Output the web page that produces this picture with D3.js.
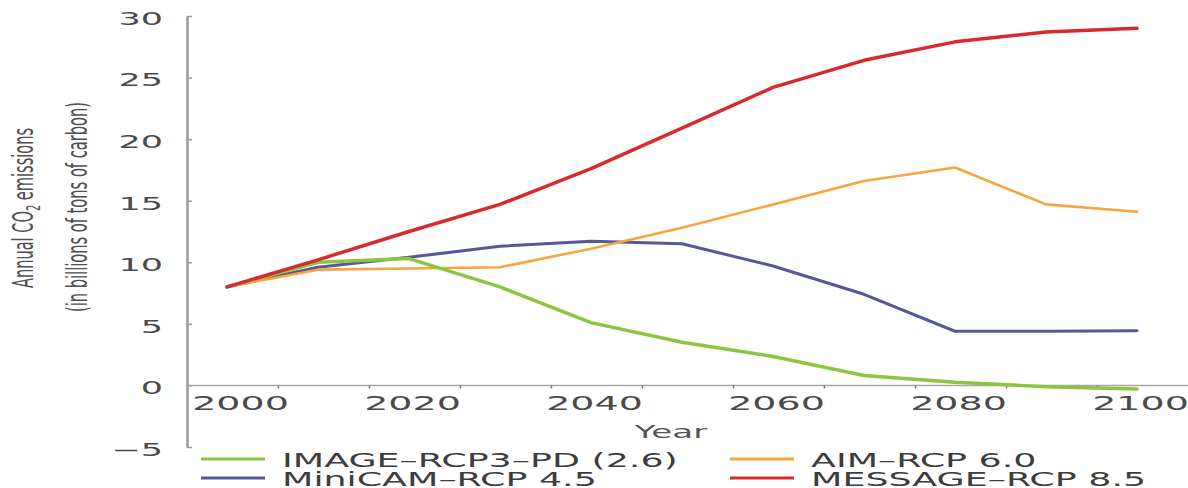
<!DOCTYPE html>
<html>
<head>
<meta charset="utf-8">
<script src="https://cdn.jsdelivr.net/npm/d3@7"></script>
<style>
  html, body { margin: 0; padding: 0; background: #fff; }
  svg { display: block; }
</style>
</head>
<body>
<svg id="chart"></svg>
<script>
// Annual CO2 emissions for the four RCP scenarios.
const years = [2000, 2010, 2020, 2030, 2040, 2050, 2060, 2070, 2080, 2090, 2100];
const image26 = [8.0, 10.0, 10.3, 8.0, 5.1, 3.5, 2.35, 0.8, 0.25, -0.1, -0.3];
const aim60 = [8.0, 9.4, 9.5, 9.6, 11.1, 12.8, 14.7, 16.6, 17.7, 14.7, 14.1];
const minicam45 = [8.0, 9.6, 10.4, 11.3, 11.7, 11.5, 9.7, 7.4, 4.4, 4.4, 4.45];
const message85 = [8.0, 10.2, 12.5, 14.7, 17.6, 20.9, 24.2, 26.4, 27.9, 28.7, 29.0];

const seriesNames = ["IMAGE–RCP3–PD (2.6)", "AIM–RCP 6.0", "MiniCAM–RCP 4.5", "MESSAGE–RCP 8.5"];
const yTicks = [-5, 0, 5, 10, 15, 20, 25, 30];
const xTickLabels = [2000, 2020, 2040, 2060, 2080, 2100];
// the small tick marks on the original sit between the labelled years
const xMinorTicks = [2005.6, 2015.6, 2025.6, 2035.6, 2045.6, 2055.6, 2065.6, 2075.6, 2085.6, 2095.6];

const W = 1188, H = 488;
const FONT = "'DejaVu Sans', 'Open Sans', sans-serif";
const STRETCH = 1.9; // the source image is stretched wide, so are its letters

const series = [
  { name: seriesNames[0], values: image26, color: "#8cc63f", width: 3.5 },
  { name: seriesNames[1], values: aim60, color: "#f6a53f", width: 2.6 },
  { name: seriesNames[2], values: minicam45, color: "#57579a", width: 3 },
  { name: seriesNames[3], values: message85, color: "#d82a2e", width: 3.5 },
];
const drawOrder = [2, 1, 0, 3];

const svg = d3.select("#chart").attr("width", W).attr("height", H);

const axisX = 187;
const x = d3.scaleLinear().domain([2000, 2100]).range([227, 1137]);
const y = d3.scaleLinear().domain([-5, 30]).range([447, 16]);

// y axis, ticks point into the plot, labels on the left
const yAxis = svg.append("g")
  .attr("transform", `translate(${axisX},0)`)
  .call(d3.axisLeft(y).tickValues(yTicks).tickSize(-5).tickSizeOuter(0).tickPadding(0));
yAxis.select(".domain").attr("stroke", "#9a9a9a").attr("stroke-width", 2.5);
yAxis.selectAll(".tick line").attr("stroke", "#9a9a9a").attr("stroke-width", 1.5);
yAxis.selectAll(".tick text")
  .attr("x", 0)
  .attr("dy", "0.36em")
  .attr("transform", "translate(-24,2) scale(2,1)")
  .attr("fill", "#4a4a4a")
  .attr("font-family", FONT)
  .attr("font-size", 17.5);

// zero line running across to the right edge
svg.append("line")
  .attr("x1", axisX).attr("x2", W)
  .attr("y1", y(0)).attr("y2", y(0))
  .attr("stroke", "#a8a8a8")
  .attr("stroke-width", 1.5);

const xTickG = svg.append("g")
  .attr("transform", `translate(0,${y(0)})`)
  .call(d3.axisBottom(x).tickValues(xMinorTicks).tickSize(3).tickFormat(""));
xTickG.select(".domain").remove();
xTickG.selectAll(".tick line").attr("stroke", "#777").attr("stroke-width", 1.5);

const xLabelG = svg.append("g")
  .attr("transform", `translate(0,${y(0)})`)
  .call(d3.axisBottom(x).tickValues(xTickLabels).tickSize(0).tickFormat(d3.format("d")));
xLabelG.select(".domain").remove();
xLabelG.selectAll(".tick text")
  .attr("y", 0)
  .attr("dy", null)
  .attr("transform", (d) => `translate(${d === 2000 ? 13 : 3},25) scale(${STRETCH},1)`)
  .attr("fill", "#4a4a4a")
  .attr("font-family", FONT)
  .attr("font-size", 20);

svg.append("text")
  .attr("transform", `translate(671,438) scale(${STRETCH},1)`)
  .attr("text-anchor", "middle")
  .attr("fill", "#555")
  .attr("font-family", FONT)
  .attr("font-size", 18)
  .text("Year");

// y label, two rotated lines in a narrow face
const yLab1 = svg.append("text")
  .attr("transform", "translate(33,208) scale(1.75,1) rotate(-90)")
  .attr("text-anchor", "middle")
  .attr("fill", "#505050")
  .attr("font-family", FONT)
  .attr("font-size", 16)
  .attr("textLength", 160)
  .attr("lengthAdjust", "spacingAndGlyphs");
yLab1.append("tspan").text("Annual CO");
yLab1.append("tspan").attr("font-size", 11).attr("dy", 4).text("2");
yLab1.append("tspan").attr("dy", -4).text(" emissions");

svg.append("text")
  .attr("transform", "translate(87,207) scale(1.75,1) rotate(-90)")
  .attr("text-anchor", "middle")
  .attr("fill", "#505050")
  .attr("font-family", FONT)
  .attr("font-size", 16)
  .attr("textLength", 210)
  .attr("lengthAdjust", "spacingAndGlyphs")
  .text("(in billions of tons of carbon)");

// scenario lines
const line = d3.line()
  .x((d, i) => x(years[i]))
  .y((d) => y(d));

svg.append("g")
  .selectAll("path")
  .data(drawOrder.map((i) => series[i]))
  .join("path")
  .attr("d", (d) => line(d.values))
  .attr("fill", "none")
  .attr("stroke", (d) => d.color)
  .attr("stroke-width", (d) => d.width)
  .attr("stroke-linejoin", "round")
  .attr("stroke-linecap", "round");

// legend: 2 x 2 grid under the axis
const legendCols = [201, 730];
const legendRows = [459, 478];
const legend = svg.append("g")
  .selectAll("g")
  .data(series)
  .join("g")
  .attr("transform", (d, i) => `translate(${legendCols[i % 2]},${legendRows[Math.floor(i / 2)]})`);

legend.append("line")
  .attr("x1", 0).attr("x2", 64)
  .attr("stroke", (d) => d.color)
  .attr("stroke-width", 3);

legend.append("text")
  .attr("transform", `translate(81,8) scale(1.82,1)`)
  .attr("fill", "#3d3d3d")
  .attr("font-family", FONT)
  .attr("font-size", 20)
  .text((d) => d.name);
</script>
</body>
</html>
